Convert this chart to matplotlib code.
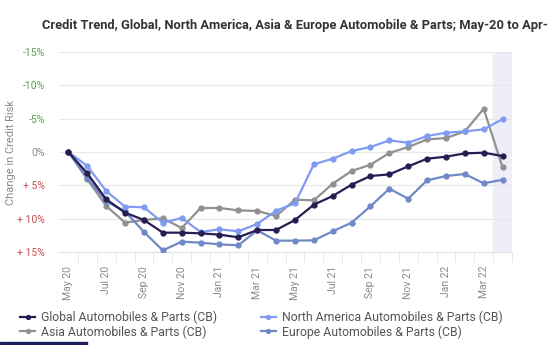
import matplotlib.pyplot as plt
import numpy as np

plt.rcParams['font.family'] = ['Roboto', 'DejaVu Sans']

# Months from May 20 to Apr 22
months = ['May 20', 'Jun 20', 'Jul 20', 'Aug 20', 'Sep 20', 'Oct 20', 'Nov 20', 'Dec 20',
          'Jan 21', 'Feb 21', 'Mar 21', 'Apr 21', 'May 21', 'Jun 21', 'Jul 21', 'Aug 21',
          'Sep 21', 'Oct 21', 'Nov 21', 'Dec 21', 'Jan 22', 'Feb 22', 'Mar 22', 'Apr 22']

# change in credit risk (%), positive = worse
global_cb = [0, 3.2, 7.1, 9.1, 10.2, 12.1, 12.1, 12.2, 12.4, 12.8, 11.7, 11.7,
             10.2, 7.9, 6.6, 4.9, 3.6, 3.35, 2.15, 1.0, 0.7, 0.2, 0.1, 0.6]
north_america = [0, 2.1, 5.85, 8.2, 8.3, 10.6, 9.9, 12.0, 11.6, 11.9, 10.8, 8.8,
                 7.7, 1.85, 1.0, -0.15, -0.75, -1.75, -1.4, -2.4, -2.9, -3.1, -3.4, -4.95]
asia = [0, 4.1, 8.1, 10.6, 10.2, 9.95, 11.4, 8.4, 8.4, 8.75, 8.85, 9.6,
        7.15, 7.25, 4.75, 2.85, 1.9, 0.15, -0.75, -1.9, -2.1, -3.1, -6.5, 2.3]
europe = [0, 3.9, 7.4, 8.9, 12.0, 14.75, 13.45, 13.6, 13.85, 14.0, 11.75, 13.3,
          13.3, 13.25, 11.9, 10.6, 8.15, 5.5, 7.0, 4.25, 3.6, 3.3, 4.7, 4.15]

yticks = [-15, -10, -5, 0, 5, 10, 15]
ylabels = ['-15%', '-10%', '-5%', '0%', '+ 5%', '+ 10%', '+ 15%']
ycolors = ['#5a9e4f', '#5a9e4f', '#5a9e4f', '#8a8a8a', '#c0504d', '#c0504d', '#c0504d']

fig = plt.figure(figsize=(5.49, 3.45), dpi=100)
ax = fig.add_axes([0.1075, 0.2696, 0.8251, 0.5794])

x = np.arange(len(months))
ax.axvspan(22.5, 23.5, color='#eeeef8', zorder=0)

l1, = ax.plot(x, global_cb, color='#261d52', marker='o', ms=3.5, lw=1.6, zorder=5)
l2, = ax.plot(x, north_america, color='#809bf2', marker='o', ms=3.5, lw=1.6, zorder=4)
l3, = ax.plot(x, asia, color='#919191', marker='o', ms=3.5, lw=1.6, zorder=3)
l4, = ax.plot(x, europe, color='#7089c6', marker='o', ms=3.5, lw=1.6, zorder=3)

ax.set_xlim(-0.5, 23.5)
ax.set_ylim(15, -15)

ax.set_yticks(yticks)
ax.set_yticklabels(ylabels)
for lab, c in zip(ax.get_yticklabels(), ycolors):
    lab.set_color(c)
ax.tick_params(axis='y', length=0, labelsize=7.5, pad=10)
ax.yaxis.grid(True, color='#e8e8e8', lw=0.9)

ax.set_xticks(x[::2])
ax.set_xticklabels(months[::2], rotation=90, fontsize=7.5, color='#8a8a8a')
ax.set_xticks(x + 0.5, minor=True)
ax.tick_params(axis='x', which='minor', length=7, color='#e3e3e3')
ax.tick_params(axis='x', which='major', length=0, pad=10)

for s in ['top', 'right', 'left']:
    ax.spines[s].set_visible(False)
ax.spines['bottom'].set_color('#e3e3e3')

ax.set_ylabel('Change in Credit Risk', color='#8a8a8a', fontsize=8, labelpad=2)
ax.yaxis.set_label_coords(-0.095, 0.5)

# title is truncated in the source image
fig.text(0.076, 0.925, 'Credit Trend, Global, North America, Asia & Europe Automobile & Parts; May-20 to Apr-',
         fontsize=9.25, fontweight='bold', color='#333333', va='center')

# order so rows read Global / North America, Asia / Europe
leg = ax.legend([l1, l3, l2, l4],
                ['Global Automobiles & Parts (CB)', 'Asia Automobiles & Parts (CB)',
                 'North America Automobiles & Parts (CB)', 'Europe Automobiles & Parts (CB)'],
                loc='upper left', bbox_to_anchor=(-0.11, -0.237), ncol=2, frameon=False,
                fontsize=8.8, handlelength=1.2, handletextpad=0.5, columnspacing=3.6,
                labelspacing=0.12, labelcolor='#555555', markerscale=0.8)

fig.patches.append(plt.Rectangle((0, 0), 0.158, 0.01, transform=fig.transFigure, color='#1a1f5c'))

fig.savefig('out.png', dpi=100)
